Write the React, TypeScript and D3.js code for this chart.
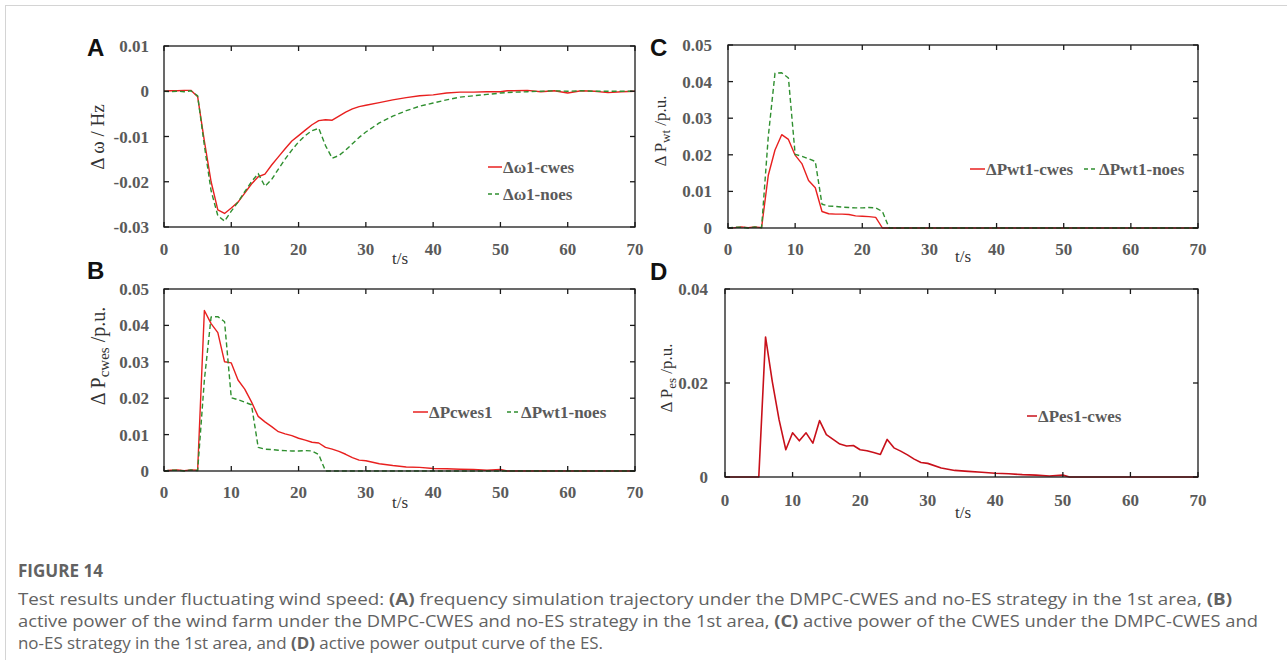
import React from "react";
import * as d3 from "d3";

// ---------- data ----------
const timeS = [
  0, 1, 2, 3, 4, 5, 6, 7, 8, 9, 10, 11, 12, 13, 14, 15, 16, 17, 18, 19, 20,
  21, 22, 23, 24, 25, 26, 27, 28, 29, 30, 32, 34, 36, 38, 40, 42, 44, 46, 48,
  50, 51, 52, 54, 56, 58, 60, 62, 64, 66, 68, 70,
];
const xTickLabels = ["0", "10", "20", "30", "40", "50", "60", "70"];

// Panel A: frequency deviation (Hz)
const dOmegaCwes = [
  0, 0.0001, 0.0001, 0.0002, 0.0002, -0.0012, -0.011, -0.02, -0.0262, -0.027,
  -0.0258, -0.0245, -0.0225, -0.0205, -0.0189, -0.0183, -0.0163, -0.0145,
  -0.0127, -0.011, -0.0098, -0.0086, -0.0074, -0.0065, -0.0063, -0.0064,
  -0.0055, -0.0046, -0.0039, -0.0034, -0.0031,
  -0.0025, -0.0019, -0.0014, -0.001, -0.0008, -0.0004, -0.0002, -0.0002,
  -0.0001, -0.0001,
  0.0001,
  0.0001, 0.0002, -0.0001, 0.0001, -0.0004, 0.0001, 0.0, -0.0003, -0.0001, 0,
];
const dOmegaNoes = [
  0, -0.0001, 0, -0.0001, 0.0001, -0.001, -0.012, -0.022, -0.0275, -0.0287,
  -0.0265, -0.0245, -0.0222, -0.02, -0.0182, -0.021, -0.0195, -0.0172, -0.015,
  -0.013, -0.0112, -0.0098, -0.0087, -0.0082, -0.012, -0.0148, -0.0142,
  -0.013, -0.0116, -0.0102, -0.009,
  -0.007, -0.0055, -0.0043, -0.0033, -0.0026, -0.0019, -0.0013, -0.001,
  -0.0007, -0.0004,
  -0.0003,
  -0.0002, -0.0001, 0, 0.0001, 0, 0.0001, 0, 0, 0, 0,
];

// Panel B: CWES active power (p.u.)
const pCwes1 = [
  0, 0.0002, 0.0003, 0.0001, 0.0003, 0.0002, 0.0441, 0.0405, 0.038, 0.03,
  0.0297, 0.025, 0.0225, 0.019, 0.015, 0.0135, 0.0122, 0.0108, 0.0102, 0.0097,
  0.009, 0.0085, 0.0079, 0.0077, 0.0065, 0.006, 0.0054, 0.0046, 0.0037, 0.003,
  0.0028,
  0.002, 0.0015, 0.0011, 0.001, 0.0007, 0.0006, 0.0005, 0.0004, 0.0002, 0.0004,
  0,
  0, 0, 0, 0, 0, 0, 0, 0, 0, 0,
];
// Wind farm power without ES (used in B and C)
const pWt1Noes = [
  0, 0.0002, 0.0002, 0, 0.0003, 0.0001, 0.025, 0.0423, 0.0424, 0.041, 0.0201,
  0.0196, 0.0189, 0.0182, 0.0065, 0.006, 0.0059, 0.0057, 0.0056, 0.0055,
  0.0055, 0.0056, 0.0055, 0.0045, 0, 0, 0, 0, 0, 0, 0,
  0, 0, 0, 0, 0, 0, 0, 0, 0, 0,
  0,
  0, 0, 0, 0, 0, 0, 0, 0, 0, 0,
];
// Panel C: wind farm power with CWES
const pWt1Cwes = [
  0, 0.0001, 0.0003, 0.0001, 0.0003, 0.0001, 0.0144, 0.0213, 0.0255, 0.0242,
  0.0199, 0.0176, 0.013, 0.011, 0.0045, 0.0039, 0.0038, 0.0038, 0.0037, 0.0033,
  0.0032, 0.0031, 0.0029, 0, 0, 0, 0, 0, 0, 0, 0,
  0, 0, 0, 0, 0, 0, 0, 0, 0, 0,
  0,
  0, 0, 0, 0, 0, 0, 0, 0, 0, 0,
];
// Panel D: ES power
const pEs1Cwes = [
  0, 0, 0, 0, 0, 0, 0.0298, 0.0203, 0.0122, 0.0058, 0.0094, 0.0077, 0.0094,
  0.0072, 0.012, 0.009, 0.008, 0.007, 0.0066, 0.0067, 0.0058, 0.0056, 0.0052,
  0.0048, 0.008, 0.0062, 0.0055, 0.0047, 0.0038, 0.0031, 0.0029,
  0.0019, 0.0014, 0.0012, 0.001, 0.0008, 0.0007, 0.0005, 0.0004, 0.0002,
  0.0004,
  0,
  0, 0, 0, 0, 0, 0, 0, 0, 0, 0,
];

const yTicksA = [-0.03, -0.02, -0.01, 0, 0.01];
const yTicksBC = [0, 0.01, 0.02, 0.03, 0.04, 0.05];
const yTicksD = [0, 0.02, 0.04];

// ---------- styling ----------
const RED = "#e8201f";
const RED_D = "#c8101a";
const GREEN = "#2f8f2f";
const LABEL_GRAY = "#5a5a5a";
const SERIF = "'Liberation Serif', 'Times New Roman', serif";

type Series = { values: number[]; color: string; dashed?: boolean; width?: number };
type LegendItem = { label: string; color: string; dashed?: boolean; x1: number; x2: number; y: number };

function fmt(v: number) {
  if (Math.abs(v) < 1e-12) return "0";
  return String(+v.toFixed(2));
}

function Panel(props: {
  box: [number, number, number, number];
  yDomain: [number, number];
  yTicks: number[];
  series: Series[];
  legend: LegendItem[];
  letter: string;
  letterPos: [number, number];
  yTitle: React.ReactNode;
  yTitlePos: [number, number];
  yTitleSize: number;
  xLabelY: number;
  tsPos: [number, number];
  yLabelGap: number;
}) {
  const [x0, x1, y0, y1] = props.box;
  const x = d3.scaleLinear().domain([0, 70]).range([x0, x1]);
  const y = d3.scaleLinear().domain(props.yDomain).range([y1, y0]);
  const xt = x.ticks(7);
  const tl = 5;
  return (
    <g>
      <text x={props.letterPos[0]} y={props.letterPos[1]} fontFamily="'Liberation Sans', Arial, sans-serif" fontWeight="bold" fontSize={24} fill="#111">
        {props.letter}
      </text>
      {props.series.map((s, i) => {
        const line = d3
          .line<number>()
          .x((_, k) => x(timeS[k]))
          .y((v) => y(v));
        return (
          <path
            key={i}
            d={line(s.values) || ""}
            fill="none"
            stroke={s.color}
            strokeWidth={s.width ?? 1.4}
            strokeDasharray={s.dashed ? "5,3" : undefined}
            strokeLinejoin="round"
          />
        );
      })}
      <rect x={x0} y={y0} width={x1 - x0} height={y1 - y0} fill="none" stroke="#1a1a1a" strokeWidth={1.3} />
      {xt.map((t, i) => (
        <g key={"xt" + i}>
          <line x1={x(t)} x2={x(t)} y1={y1} y2={y1 - tl} stroke="#1a1a1a" strokeWidth={1.3} />
          <line x1={x(t)} x2={x(t)} y1={y0} y2={y0 + tl} stroke="#1a1a1a" strokeWidth={1.3} />
          <text x={x(t)} y={props.xLabelY} textAnchor="middle" fontFamily={SERIF} fontWeight="bold" fontSize={17} fill={LABEL_GRAY}>
            {xTickLabels[i]}
          </text>
        </g>
      ))}
      {props.yTicks.map((t, i) => (
        <g key={"yt" + i}>
          <line x1={x0} x2={x0 + tl} y1={y(t)} y2={y(t)} stroke="#1a1a1a" strokeWidth={1.3} />
          <line x1={x1} x2={x1 - tl} y1={y(t)} y2={y(t)} stroke="#1a1a1a" strokeWidth={1.3} />
          <text x={x0 - props.yLabelGap} y={y(t) + 6} textAnchor="end" fontFamily={SERIF} fontWeight="bold" fontSize={17} fill={LABEL_GRAY}>
            {fmt(t)}
          </text>
        </g>
      ))}
      {props.legend.map((l, i) => (
        <g key={"lg" + i}>
          <line x1={l.x1} x2={l.x2} y1={l.y} y2={l.y} stroke={l.color} strokeWidth={1.5} strokeDasharray={l.dashed ? "4,3" : undefined} />
          <text x={l.x2 + 1} y={l.y + 6} fontFamily={SERIF} fontWeight="bold" fontSize={17} fill={LABEL_GRAY}>
            {l.label}
          </text>
        </g>
      ))}
      <text
        transform={`translate(${props.yTitlePos[0]},${props.yTitlePos[1]}) rotate(-90)`}
        textAnchor="middle"
        fontFamily={SERIF}
        fontSize={props.yTitleSize}
        fill="#333"
      >
        {props.yTitle}
      </text>
      <text x={props.tsPos[0]} y={props.tsPos[1]} textAnchor="middle" fontFamily={SERIF} fontSize={17} fill="#333">
        t/s
      </text>
    </g>
  );
}

export default function App() {
  const capStyle = { fontFamily: "'Open Sans', 'Noto Sans', sans-serif", fontSize: 16, fill: "#626262" };
  return (
    <svg width={1287} height={660} style={{ position: "absolute", left: 0, top: 0, background: "#fff" }}>
      <rect x={5.5} y={5.5} width={1300} height={700} fill="#fff" stroke="#d4d4d4" strokeWidth={1} />
      <Panel
        box={[164, 635, 46, 227]}
        yDomain={[-0.03, 0.01]}
        yTicks={yTicksA}
        series={[
          { values: dOmegaCwes, color: RED },
          { values: dOmegaNoes, color: GREEN, dashed: true },
        ]}
        legend={[
          { label: "Δω1-cwes", color: RED, x1: 488, x2: 502, y: 167 },
          { label: "Δω1-noes", color: GREEN, dashed: true, x1: 488, x2: 502, y: 194 },
        ]}
        letter="A"
        letterPos={[87, 56]}
        yTitle={<tspan>Δ ω / Hz</tspan>}
        yTitlePos={[104, 137]}
        yTitleSize={19}
        xLabelY={255}
        tsPos={[400, 264]}
        yLabelGap={15}
      />
      <Panel
        box={[164, 635, 289, 471]}
        yDomain={[0, 0.05]}
        yTicks={yTicksBC}
        series={[
          { values: pCwes1, color: RED },
          { values: pWt1Noes, color: GREEN, dashed: true },
        ]}
        legend={[
          { label: "ΔPcwes1", color: RED, x1: 413, x2: 428, y: 412 },
          { label: "ΔPwt1-noes", color: GREEN, dashed: true, x1: 507, x2: 520, y: 412 },
        ]}
        letter="B"
        letterPos={[87, 279]}
        yTitle={
          <>
            <tspan>Δ P</tspan>
            <tspan fontSize={15} dy={4}>cwes</tspan>
            <tspan dy={-4}> /p.u.</tspan>
          </>
        }
        yTitlePos={[105, 356]}
        yTitleSize={20}
        xLabelY={498}
        tsPos={[400, 508]}
        yLabelGap={15}
      />
      <Panel
        box={[728, 1198, 45, 228]}
        yDomain={[0, 0.05]}
        yTicks={yTicksBC}
        series={[
          { values: pWt1Cwes, color: RED },
          { values: pWt1Noes, color: GREEN, dashed: true },
        ]}
        legend={[
          { label: "ΔPwt1-cwes", color: RED, x1: 970, x2: 985, y: 169 },
          { label: "ΔPwt1-noes", color: GREEN, dashed: true, x1: 1084, x2: 1098, y: 169 },
        ]}
        letter="C"
        letterPos={[650, 56]}
        yTitle={
          <>
            <tspan>Δ P</tspan>
            <tspan fontSize={13} dy={4}>wt</tspan>
            <tspan dy={-4}> /p.u.</tspan>
          </>
        }
        yTitlePos={[666, 131]}
        yTitleSize={17}
        xLabelY={255}
        tsPos={[963, 262]}
        yLabelGap={16}
      />
      <Panel
        box={[725, 1198, 289, 477]}
        yDomain={[0, 0.04]}
        yTicks={yTicksD}
        series={[{ values: pEs1Cwes, color: RED_D, width: 1.6 }]}
        legend={[{ label: "ΔPes1-cwes", color: RED_D, x1: 1027, x2: 1037, y: 416 }]}
        letter="D"
        letterPos={[650, 280]}
        yTitle={
          <>
            <tspan>Δ P</tspan>
            <tspan fontSize={13} dy={4}>es</tspan>
            <tspan dy={-4}> /p.u.</tspan>
          </>
        }
        yTitlePos={[672, 378]}
        yTitleSize={17}
        xLabelY={506}
        tsPos={[963, 518]}
        yLabelGap={17}
      />
      <text x={18} y={577} {...capStyle} fontWeight="bold" fontSize={17} textLength={85} lengthAdjust="spacingAndGlyphs">
        FIGURE 14
      </text>
      <text x={18} y={605} {...capStyle} textLength={1214} lengthAdjust="spacingAndGlyphs">
        Test results under fluctuating wind speed: <tspan fontWeight="bold">(A)</tspan> frequency simulation trajectory under the DMPC-CWES and no-ES strategy in the 1st area, <tspan fontWeight="bold">(B)</tspan>
      </text>
      <text x={18} y={627} {...capStyle} textLength={1240} lengthAdjust="spacingAndGlyphs">
        active power of the wind farm under the DMPC-CWES and no-ES strategy in the 1st area, <tspan fontWeight="bold">(C)</tspan> active power of the CWES under the DMPC-CWES and
      </text>
      <text x={18} y={649} {...capStyle} textLength={585} lengthAdjust="spacingAndGlyphs">
        no-ES strategy in the 1st area, and <tspan fontWeight="bold">(D)</tspan> active power output curve of the ES.
      </text>
    </svg>
  );
}
